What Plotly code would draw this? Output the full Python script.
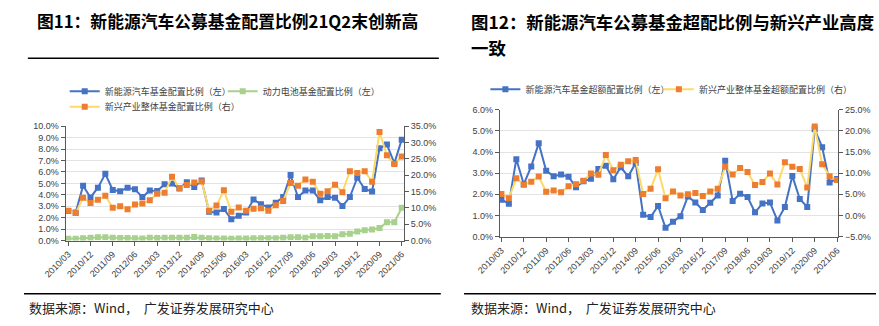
import plotly.graph_objects as go

# ---------------- data ----------------
quarters = ["2010/03","2010/06","2010/09","2010/12","2011/03","2011/06","2011/09","2011/12",
            "2012/03","2012/06","2012/09","2012/12","2013/03","2013/06","2013/09","2013/12",
            "2014/03","2014/06","2014/09","2014/12","2015/03","2015/06","2015/09","2015/12",
            "2016/03","2016/06","2016/09","2016/12","2017/03","2017/06","2017/09","2017/12",
            "2018/03","2018/06","2018/09","2018/12","2019/03","2019/06","2019/09","2019/12",
            "2020/03","2020/06","2020/09","2020/12","2021/03","2021/06"]

# Chart 11
nev_alloc = [2.59,2.45,4.79,3.77,4.62,5.83,4.42,4.31,4.62,4.48,3.80,4.37,4.34,4.93,4.99,4.54,
             5.10,4.68,5.24,2.51,2.45,2.76,1.86,2.17,2.45,3.58,3.18,2.90,3.30,3.80,5.72,3.80,
             4.37,4.37,3.52,3.80,3.75,3.01,3.80,5.49,4.51,4.28,8.08,8.39,6.76,8.82]
battery_alloc = [0.15,0.15,0.20,0.25,0.28,0.28,0.25,0.22,0.22,0.20,0.18,0.25,0.22,0.25,0.25,0.25,
                 0.25,0.30,0.25,0.20,0.18,0.18,0.15,0.18,0.18,0.20,0.20,0.20,0.20,0.25,0.28,0.28,
                 0.25,0.37,0.37,0.40,0.37,0.54,0.59,0.79,0.90,0.96,1.10,1.60,1.60,2.87]
emerging_alloc = [9.1,8.4,13.1,11.5,12.5,13.7,10.0,10.5,9.6,11.0,11.3,12.3,14.3,14.6,19.5,16.1,
                  17.0,17.8,18.1,9.1,10.7,15.4,8.8,10.1,9.1,9.7,9.9,9.1,10.8,12.1,17.6,16.8,
                  18.7,18.0,14.3,15.1,17.1,14.8,21.2,20.7,21.2,18.0,33.2,26.1,23.4,25.7]

# Chart 12
nev_over = [1.75,1.56,3.66,2.48,3.32,4.41,3.11,2.86,2.94,2.83,2.33,2.62,2.74,3.20,3.35,2.71,
            3.28,2.85,3.48,1.03,0.93,1.45,0.42,0.70,0.97,1.90,1.61,1.26,1.60,1.95,3.59,1.69,
            2.03,1.87,1.15,1.57,1.61,0.77,1.40,2.87,1.78,1.40,5.07,4.23,2.56,2.73]
emerging_over = [5.1,4.1,8.8,7.25,8.0,9.2,5.6,5.9,5.5,6.9,7.4,8.2,9.9,9.6,14.3,10.7,
                 12.0,12.8,13.1,5.1,6.3,10.9,4.1,5.7,4.7,5.0,5.3,4.6,5.7,6.3,11.5,9.7,
                 11.2,10.3,7.2,7.9,9.9,7.3,12.6,11.5,11.0,6.6,21.0,12.1,9.3,8.4]

tick_idx = list(range(0, len(quarters), 3))
tick_txt = [quarters[i] for i in tick_idx]
xi = list(range(len(quarters)))

BLUE = "#4472C4"
ORANGE = "#ED7D31"
YELLOW = "#FFD966"
GREEN = "#A9D18E"
AX = "#595959"
GRID = "#E3E3E3"
TXT = "#404040"
CJK = "Noto Sans CJK SC"
LAT = "Liberation Sans, Arial"

W, H = 879, 326

def px(xp):
    return xp / W

def py(yp):
    return 1 - yp / H

fig = go.Figure()

def line_trace(y, name, xa, ya, lc, mc, legend):
    return go.Scatter(
        x=xi, y=y, name=name, xaxis=xa, yaxis=ya, mode="lines+markers",
        line=dict(color=lc, width=2),
        marker=dict(symbol="square", size=6, color=mc),
        legend=legend, showlegend=True,
    )

fig.add_trace(line_trace(nev_alloc, "新能源汽车基金配置比例（左）", "x", "y", BLUE, BLUE, "legend"))
fig.add_trace(line_trace(battery_alloc, "动力电池基金配置比例（左）", "x", "y", GREEN, GREEN, "legend2"))
fig.add_trace(line_trace(emerging_alloc, "新兴产业整体基金配置比例（右）", "x", "y2", YELLOW, ORANGE, "legend3"))
fig.add_trace(line_trace(nev_over, "新能源汽车基金超额配置比例（左）", "x2", "y3", BLUE, BLUE, "legend4"))
fig.add_trace(line_trace(emerging_over, "新兴产业整体基金超额配置比例（右）", "x2", "y4", YELLOW, ORANGE, "legend5"))

axis_common = dict(showline=True, linecolor=AX, linewidth=1, ticks="outside", tickcolor=AX,
                   ticklen=4, tickfont=dict(family=LAT, size=9, color=TXT), zeroline=False)

xcommon = dict(axis_common, tickmode="array", tickvals=tick_idx, ticktext=tick_txt,
               tickangle=-45, showgrid=False)

fig.update_layout(
    width=W, height=H, margin=dict(l=0, r=0, t=0, b=0),
    paper_bgcolor="white", plot_bgcolor="white",
    xaxis=dict(xcommon, domain=[px(43), px(392)], range=[-0.35, 45.3], anchor="y"),
    yaxis=dict(axis_common, domain=[py(243), py(125)], range=[0, 10], dtick=1,
               tickformat=".1f", ticksuffix="%", showgrid=True, gridcolor=GRID, anchor="x"),
    yaxis2=dict(axis_common, overlaying="y", side="right", range=[0, 35], dtick=5,
                tickformat=".1f", ticksuffix="%", showgrid=False, anchor="x"),
    xaxis2=dict(xcommon, domain=[px(491), px(840)], range=[-0.2, 45.15], anchor="y3"),
    yaxis3=dict(axis_common, domain=[py(239), py(108)], range=[0, 6], dtick=1,
                tickformat=".1f", ticksuffix="%", showgrid=True, gridcolor=GRID, anchor="x2"),
    yaxis4=dict(axis_common, overlaying="y3", side="right", range=[-5, 25], dtick=5,
                tickformat=".1f", ticksuffix="%", showgrid=False, anchor="x2"),
)

leg_font = dict(family=CJK, size=9, color=TXT)

def leg(xtext, ycenter):
    return dict(x=px(xtext - 42), y=py(ycenter), xanchor="left", yanchor="middle",
                orientation="h", font=leg_font, bgcolor="rgba(0,0,0,0)", borderwidth=0)

fig.update_layout(
    legend=leg(84, 89), legend2=leg(247, 89), legend3=leg(84, 105),
    legend4=leg(518, 87), legend5=leg(697, 87),
)

def text_note(x, y, text, size, color, width):
    fig.add_annotation(x=px(x), y=py(y), xref="paper", yref="paper", xanchor="left",
                       yanchor="middle", text=text, showarrow=False, width=width, align="left",
                       borderpad=0, font=dict(family=CJK, size=size, color=color))

# titles
text_note(12, 17, "<b>图11：新能源汽车公募基金配置比例21Q2末创新高</b>", 16.8, "#000000", 425)
text_note(460, 17, "<b>图12：新能源汽车公募基金超配比例与新兴产业高度</b>", 17.4, "#000000", 418)
text_note(460, 44, "<b>一致</b>", 17.4, "#000000", 418)

# sources
for xs in (4, 460):
    text_note(xs, 312, "数据来源：Wind，  广发证券发展研究中心", 13, "#222222", 400)

# separator lines
fig.add_shape(type="line", xref="paper", yref="paper", x0=px(4), x1=px(428), y0=py(55), y1=py(55),
              line=dict(color="#000000", width=1.5))
fig.add_shape(type="line", xref="paper", yref="paper", x0=px(0), x1=px(430), y0=py(298), y1=py(298),
              line=dict(color="#000000", width=1.5))
fig.add_shape(type="line", xref="paper", yref="paper", x0=px(454), x1=px(879), y0=py(298), y1=py(298),
              line=dict(color="#000000", width=1.5))

fig.write_html("out.html")
